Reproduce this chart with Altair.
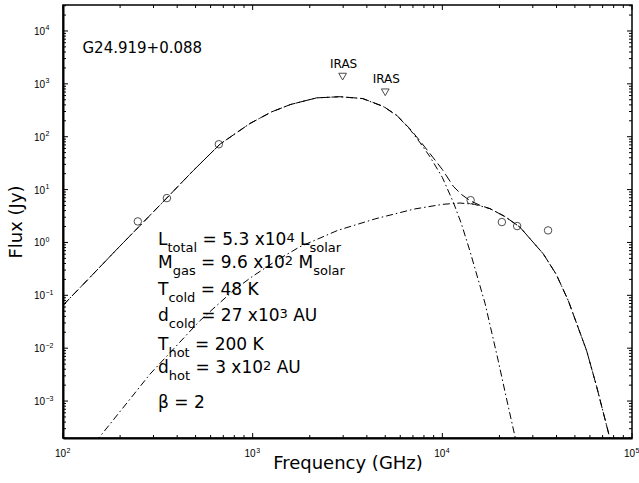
import altair as alt
import pandas as pd

# ---------------- data ----------------
obs_freq = [248, 353, 663, 14100, 20600, 24800, 36100]
obs_flux = [2.5, 6.9, 72, 6.3, 2.43, 2.04, 1.69]

iras_freq = [2980, 5000]
iras_flux = [1370, 692]
iras_text = ["IRAS", "IRAS"]

total_freq = [100, 141.3, 199.5, 281.8, 352.4, 486.4, 673, 968, 1259, 1585, 2173, 2884,
              3802, 4887, 5754, 6745, 7586, 8610, 10000, 11430, 12590, 14000, 15850,
              17820, 21380, 25640, 34040, 39810, 46130, 57680, 65010, 76380]
total_flux = [0.0646, 0.234, 0.851, 3.02, 6.92, 22.9, 72.4, 178, 295, 407, 543, 571,
              528, 375, 254, 141, 85.1, 47.9, 24.0, 11.5, 8.13, 6.17, 5.01,
              4.36, 3.09, 1.95, 0.610, 0.251, 0.0794, 0.00891, 0.00191, 0.000200]

cold_freq = [100, 141.3, 199.5, 281.8, 352.4, 486.4, 673, 968, 1259, 1585, 2173, 2884,
             3802, 4887, 5754, 6745, 7586, 8610, 10000, 11430, 12590, 14000, 16790,
             19720, 21630, 24320]
cold_flux = [0.0646, 0.234, 0.851, 3.02, 6.92, 22.9, 72.4, 178, 295, 407, 543, 571,
             525, 372, 251, 138, 79.4, 41.7, 17.0, 5.75, 2.29, 0.676, 0.0708,
             0.00575, 0.00126, 0.000191]

hot_freq = [147.9, 160, 287.7, 527, 791, 1000, 1337, 1778, 2818, 4467, 7079, 10000, 12390,
            14790, 17820, 21380, 25640, 34040, 39810, 46130, 57680, 65010, 76380]
hot_flux = [0.000166, 0.000234, 0.00324, 0.0331, 0.123, 0.229, 0.457, 0.832, 1.70, 2.82,
            4.27, 5.25, 5.57, 5.25, 4.36, 3.09, 1.95, 0.610, 0.251, 0.0794, 0.00891,
            0.00191, 0.000200]

x_domain = [100, 100000]
y_domain = [2.0e-4, 3.1e4]
x_major = [1e2, 1e3, 1e4, 1e5]
x_major_exp = ["2", "3", "4", "5"]
y_major = [1e-3, 1e-2, 1e-1, 1e0, 1e1, 1e2, 1e3, 1e4]
y_major_exp = ["\u22123", "\u22122", "\u22121", "0", "1", "2", "3", "4"]

source_name = "G24.919+0.088"
param_rows = [
    [("L", "main"), ("total", "sub"), (" = 5.3 x10", "main"), ("4", "sup"), (" L", "main"), ("solar", "sub")],
    [("M", "main"), ("gas", "sub"), (" = 9.6 x10", "main"), ("2", "sup"), (" M", "main"), ("solar", "sub")],
    [("T", "main"), ("cold", "sub"), (" = 48 K", "main")],
    [("d", "main"), ("cold", "sub"), (" = 27 x10", "main"), ("3", "sup"), (" AU", "main")],
    [("T", "main"), ("hot", "sub"), (" = 200 K", "main")],
    [("d", "main"), ("hot", "sub"), (" = 3 x10", "main"), ("2", "sup"), (" AU", "main")],
    [("\u03b2 = 2", "main")],
]
row_baselines = [245, 268, 295, 321, 350, 373, 408]

# ---------------- layout ----------------
W, H = 569, 433
LEFT, TOP = 63, 5
FONT = "DejaVu Sans"

xs = alt.Scale(type="log", domain=x_domain, nice=False)
ys = alt.Scale(type="log", domain=y_domain, nice=False)
xax = alt.Axis(title="Frequency (GHz)", labels=False, ticks=False, grid=False,
               domain=True, domainColor="black", domainWidth=2,
               titleFont=FONT, titleFontSize=18, titleFontWeight="normal", titleColor="black",
               titleBaseline="alphabetic", titleY=30)
yax = alt.Axis(title="Flux (Jy)", labels=False, ticks=False, grid=False,
               domain=True, domainColor="black", domainWidth=2,
               titleFont=FONT, titleFontSize=18, titleFontWeight="normal", titleColor="black",
               titleX=-47, titleY=H / 2, titleAngle=270, titleAlign="center",
               titleBaseline="middle")

X = lambda f="freq": alt.X(f"{f}:Q", scale=xs, axis=xax)
Y = lambda f="flux": alt.Y(f"{f}:Q", scale=ys, axis=yax)

df_total = pd.DataFrame({"freq": total_freq, "flux": total_flux})
df_cold = pd.DataFrame({"freq": cold_freq, "flux": cold_flux})
df_hot = pd.DataFrame({"freq": hot_freq, "flux": hot_flux})
df_obs = pd.DataFrame({"freq": obs_freq, "flux": obs_flux})
df_iras = pd.DataFrame({"freq": iras_freq, "flux": iras_flux, "label": iras_text})

dashdot = [7, 3, 1.5, 3]
l_total = alt.Chart(df_total).mark_line(color="black", strokeWidth=1, strokeDash=[9, 4], clip=True).encode(x=X(), y=Y())
l_cold = alt.Chart(df_cold).mark_line(color="black", strokeWidth=1, strokeDash=dashdot, clip=True).encode(x=X(), y=Y())
l_hot = alt.Chart(df_hot).mark_line(color="black", strokeWidth=1, strokeDash=dashdot, clip=True).encode(x=X(), y=Y())

pts = alt.Chart(df_obs).mark_point(shape="circle", filled=False, color="black", size=56, strokeWidth=1).encode(x=X(), y=Y())
tri = alt.Chart(df_iras).mark_point(shape="triangle-down", filled=False, color="black", size=60, strokeWidth=1).encode(x=X(), y=Y())
tri_txt = alt.Chart(df_iras).mark_text(font=FONT, fontSize=12, color="black", dx=1, dy=-9, baseline="alphabetic").encode(
    x=X(), y=Y(), text="label:N")

# ---------------- inward ticks ----------------
def ticks_in(lo, hi):
    out_major, out_minor = [], []
    e = -6
    while e <= 6:
        for m in range(1, 10):
            v = m * 10.0 ** e
            if lo * 0.999 <= v <= hi * 1.001:
                (out_major if m == 1 else out_minor).append(v)
        e += 1
    return out_major, out_minor

xmaj, xmin = ticks_in(*x_domain)
ymaj, ymin = ticks_in(*y_domain)
layers_ticks = []
for vals, ln in [(xmaj, 5), (xmin, 3)]:
    d = pd.DataFrame({"freq": vals})
    base = alt.Chart(d).mark_rule(color="black", strokeWidth=1)
    layers_ticks.append(base.encode(x=X(), y=alt.value(H), y2=alt.value(H - ln)))
    layers_ticks.append(base.encode(x=X(), y=alt.value(0), y2=alt.value(ln)))
for vals, ln in [(ymaj, 5), (ymin, 3)]:
    d = pd.DataFrame({"flux": vals})
    base = alt.Chart(d).mark_rule(color="black", strokeWidth=1)
    layers_ticks.append(base.encode(y=Y(), x=alt.value(0), x2=alt.value(ln)))
    layers_ticks.append(base.encode(y=Y(), x=alt.value(W), x2=alt.value(W - ln)))

# ---------------- tick labels (10 + exponent) ----------------
TFONT = "Liberation Sans"
dfx = pd.DataFrame({"freq": x_major, "exp": x_major_exp})
xl10 = alt.Chart(dfx).mark_text(font=TFONT, fontSize=10, align="right", baseline="alphabetic", dx=3, color="black").encode(
    x=X(), y=alt.value(H + 19), text=alt.value("10"))
xlex = alt.Chart(dfx).mark_text(font=TFONT, fontSize=7, align="left", baseline="alphabetic", dx=3.5, color="black").encode(
    x=X(), y=alt.value(H + 15), text="exp:N")
dfy = pd.DataFrame({"flux": y_major, "exp": y_major_exp})
yl10 = alt.Chart(dfy).mark_text(font=TFONT, fontSize=10, align="right", baseline="middle", dy=1, color="black").encode(
    y=Y(), x=alt.value(-18), text=alt.value("10"))
ylex = alt.Chart(dfy).mark_text(font=TFONT, fontSize=7, align="left", baseline="middle", dy=-2.5, color="black").encode(
    y=Y(), x=alt.value(-17.5), text="exp:N")

# ---------------- annotation text ----------------
CW = {" ": 0.318, ".": 0.318, "=": 0.838, "x": 0.592, "L": 0.557, "M": 0.863, "T": 0.611,
      "d": 0.635, "A": 0.684, "U": 0.732, "K": 0.656, "t": 0.392, "o": 0.612, "a": 0.613,
      "l": 0.278, "s": 0.521, "r": 0.411, "g": 0.635, "c": 0.550, "h": 0.634, "\u03b2": 0.636}
for dgt in "0123456789":
    CW[dgt] = 0.636
SIZE = {"main": 17, "sub": 13, "sup": 13}
SHIFT = {"main": 0, "sub": 6.5, "sup": -3.5}

def tw(s, fs):
    return sum(CW.get(c, 0.6) for c in s) * fs

segs = []
for row, base_y in zip(param_rows, row_baselines):
    cx = 158 - LEFT
    for txt, kind in row:
        fs = SIZE[kind]
        lead = len(txt) - len(txt.lstrip(" "))
        cx += tw(" " * lead, fs)
        t = txt.lstrip(" ")
        segs.append({"px": cx, "py": base_y - TOP + SHIFT[kind], "t": t, "fs": fs})
        cx += tw(t, fs)
segs.append({"px": 82.5 - LEFT, "py": 53 - TOP, "t": source_name, "fs": 15})
df_seg = pd.DataFrame(segs)
ann = alt.Chart(df_seg).mark_text(font=FONT, align="left", baseline="alphabetic", color="black").encode(
    x=alt.X("px:Q", scale=None, axis=None),
    y=alt.Y("py:Q", scale=None, axis=None),
    text="t:N",
    size=alt.Size("fs:Q", scale=None, legend=None),
)

chart = alt.layer(
    *layers_ticks, l_cold, l_hot, l_total, pts, tri, tri_txt, xl10, xlex, yl10, ylex, ann
).properties(
    width=W, height=H,
    autosize=alt.AutoSizeParams(type="none"),
    padding={"left": LEFT, "top": TOP, "right": 639 - LEFT - W, "bottom": 483 - TOP - H},
    background="white",
).configure_view(stroke="black", strokeWidth=1.5)

chart.save("out.html", embed_options={"renderer": "svg", "actions": False})
